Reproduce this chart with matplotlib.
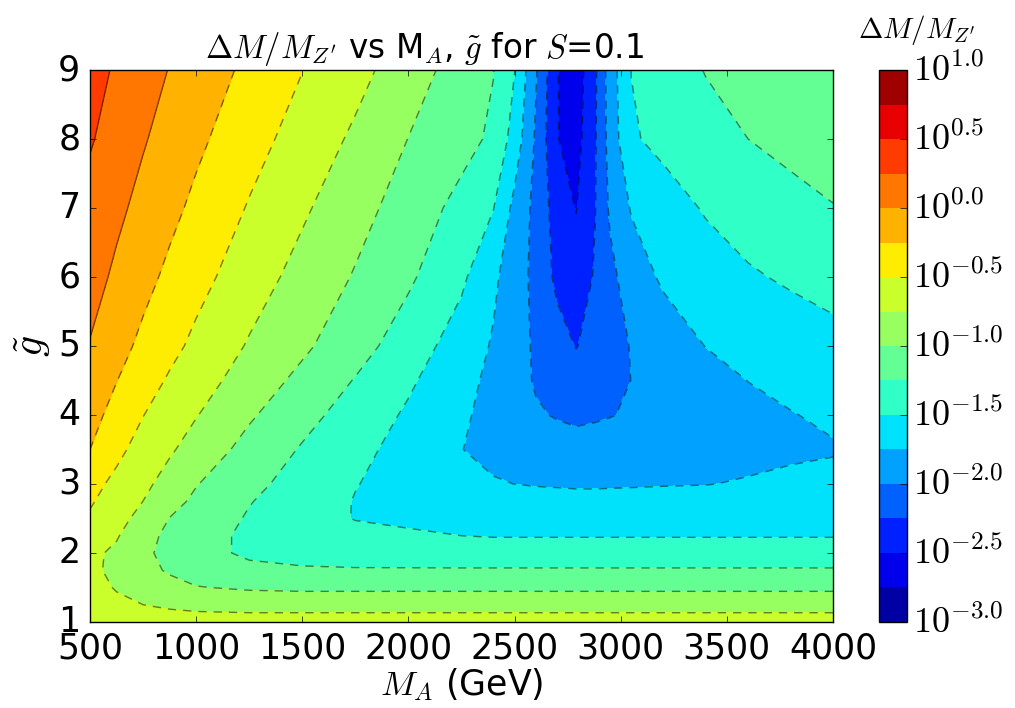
import numpy as np
import matplotlib
matplotlib.use('Agg')
import matplotlib.pyplot as plt

plt.style.use('classic')
plt.rcParams['mathtext.fontset'] = 'cm'

# grid of the scan: M_A in GeV (columns) and g-tilde (rows)
m_a = [500, 625, 750, 875, 1000, 1250, 1500, 1750, 2000, 2250, 2400, 2500, 2600,
       2700, 2790, 2880, 2950, 3050, 3200, 3400, 3600, 3800, 4000]
g_tilde = [1.0, 1.25, 1.5, 1.75, 2.0, 2.25, 2.5, 2.75, 3.0, 3.5, 4.0, 4.5, 5.0,
           6.0, 7.0, 8.0, 9.0]

# log10(Delta M / M_Z') on the grid, one list per g-tilde row
dm_g100 = [-0.62, -0.625, -0.63, -0.635, -0.64, -0.64, -0.64, -0.64, -0.64, -0.64, -0.64, -0.64, -0.64,
           -0.64, -0.64, -0.64, -0.64, -0.64, -0.64, -0.64, -0.64, -0.64, -0.64]
dm_g125 = [-0.68, -0.72, -0.75, -0.79, -0.82, -0.845, -0.845, -0.845, -0.845, -0.845, -0.845, -0.845, -0.845,
           -0.845, -0.845, -0.845, -0.845, -0.845, -0.845, -0.845, -0.845, -0.845, -0.845]
dm_g150 = [-0.70, -0.76, -0.84, -0.918, -0.99, -1.03, -1.045, -1.045, -1.045, -1.045, -1.045, -1.045, -1.045,
           -1.045, -1.045, -1.045, -1.045, -1.045, -1.045, -1.045, -1.045, -1.045, -1.045]
dm_g175 = [-0.71, -0.795, -0.921, -1.03, -1.10, -1.18, -1.22, -1.23, -1.23, -1.23, -1.23, -1.23, -1.23,
           -1.23, -1.23, -1.23, -1.23, -1.23, -1.23, -1.23, -1.23, -1.23, -1.23]
dm_g200 = [-0.70, -0.793, -0.957, -1.063, -1.149, -1.30, -1.34, -1.36, -1.37, -1.38, -1.38, -1.38, -1.38,
           -1.38, -1.38, -1.38, -1.38, -1.38, -1.38, -1.38, -1.38, -1.38, -1.38]
dm_g225 = [-0.63, -0.73, -0.917, -1.055, -1.15, -1.30, -1.38, -1.424, -1.462, -1.50, -1.512, -1.512, -1.512,
           -1.512, -1.512, -1.512, -1.512, -1.512, -1.512, -1.512, -1.512, -1.512, -1.512]
dm_g250 = [-0.53, -0.67, -0.826, -1.005, -1.098, -1.274, -1.393, -1.51, -1.55, -1.58, -1.595, -1.60, -1.605,
           -1.61, -1.61, -1.61, -1.608, -1.605, -1.60, -1.59, -1.58, -1.57, -1.564]
dm_g275 = [-0.475, -0.612, -0.751, -0.918, -1.046, -1.238, -1.38, -1.51, -1.565, -1.63, -1.668, -1.68, -1.689,
           -1.694, -1.70, -1.70, -1.697, -1.694, -1.685, -1.672, -1.66, -1.64, -1.622]
dm_g300 = [-0.425, -0.557, -0.695, -0.841, -0.989, -1.186, -1.347, -1.492, -1.585, -1.677, -1.735, -1.751, -1.76,
           -1.765, -1.77, -1.77, -1.768, -1.765, -1.76, -1.755, -1.736, -1.707, -1.678]
dm_g350 = [-0.25, -0.443, -0.59, -0.72, -0.848, -1.081, -1.271, -1.431, -1.589, -1.747, -1.80, -1.84, -1.88,
           -1.91, -1.92, -1.91, -1.90, -1.88, -1.86, -1.83, -1.80, -1.785, -1.77]
dm_g400 = [-0.167, -0.333, -0.495, -0.616, -0.739, -0.969, -1.171, -1.357, -1.534, -1.715, -1.825, -1.90, -1.977,
           -2.015, -2.04, -2.025, -2.008, -1.98, -1.936, -1.877, -1.819, -1.76, -1.71]
dm_g450 = [-0.10, -0.245, -0.389, -0.529, -0.643, -0.86, -1.063, -1.263, -1.464, -1.672, -1.809, -1.92, -2.02,
           -2.08, -2.145, -2.105, -2.063, -1.998, -1.932, -1.839, -1.747, -1.69, -1.632]
dm_g500 = [-0.012, -0.164, -0.306, -0.432, -0.555, -0.772, -0.956, -1.155, -1.372, -1.617, -1.773, -1.905, -2.034,
           -2.154, -2.26, -2.158, -2.086, -1.989, -1.883, -1.746, -1.684, -1.621, -1.56]
dm_g600 = [0.091, -0.043, -0.176, -0.302, -0.418, -0.635, -0.832, -1.019, -1.212, -1.455, -1.707, -1.876, -2.073,
           -2.305, -2.38, -2.228, -2.065, -1.875, -1.714, -1.619, -1.526, -1.47, -1.43]
dm_g700 = [0.17, 0.05, -0.069, -0.187, -0.303, -0.518, -0.714, -0.913, -1.107, -1.326, -1.493, -1.819, -2.07,
           -2.365, -2.51, -2.257, -1.961, -1.732, -1.614, -1.478, -1.40, -1.33, -1.26]
dm_g800 = [0.272, 0.147, 0.02, -0.09, -0.199, -0.406, -0.60, -0.791, -1.004, -1.166, -1.293, -1.605, -2.034,
           -2.49, -2.60, -2.27, -1.902, -1.528, -1.435, -1.341, -1.25, -1.18, -1.12]
dm_g900 = [0.34, 0.22, 0.105, -0.009, -0.108, -0.304, -0.496, -0.673, -0.88, -1.11, -1.243, -1.495, -1.975,
           -2.49, -2.64, -2.29, -1.875, -1.496, -1.385, -1.24, -1.18, -1.12, -1.07]

levels = np.arange(-3.0, 1.01, 0.25)
cbar_ticks = np.arange(-3.0, 1.01, 0.5)

Z = np.array([dm_g100, dm_g125, dm_g150, dm_g175, dm_g200, dm_g225, dm_g250, dm_g275,
              dm_g300, dm_g350, dm_g400, dm_g450, dm_g500, dm_g600, dm_g700, dm_g800, dm_g900])
X, Y = np.meshgrid(m_a, g_tilde)

fig = plt.figure(figsize=(10.15, 7.08), dpi=100, facecolor='white')
ax = fig.add_axes([0.0887, 0.1215, 0.732, 0.7796])
cax = fig.add_axes([0.866, 0.1215, 0.0276, 0.7796])

cf = ax.contourf(X, Y, Z, levels, cmap='jet')
styles = ['solid' if lv >= 0 else (0, (6, 5)) for lv in levels]
ax.contour(X, Y, Z, levels, colors='k', linewidths=1.0, alpha=0.5, linestyles=styles)

ax.set_xlim(500, 4000)
ax.set_ylim(1, 9)
ax.set_xticks(np.arange(500, 4001, 500))
ax.set_yticks(np.arange(1, 10, 1))
ax.tick_params(labelsize=25, pad=7)
ax.set_xlabel(r'$M_A$ (GeV)', fontsize=25, labelpad=0)
ax.set_ylabel(r'$\tilde{g}$', fontsize=30, labelpad=4)
ax.set_title(r'$\Delta M/M_{Z^\prime}$ vs M$_A$, $\tilde{g}$ for $S$=0.1',
             fontsize=23.5, x=0.45, y=1.01)

cbar = fig.colorbar(cf, cax=cax)
cbar.set_ticks(cbar_ticks)
cbar.set_ticklabels([r'$10^{%.1f}$' % t for t in cbar_ticks])
cbar.ax.tick_params(labelsize=26, direction='in', length=5, pad=4)
cbar.ax.set_title(r'$\Delta M/M_{Z^\prime}$', fontsize=21, x=1.36, y=1.045)

fig.savefig('out.png', dpi=100, facecolor='white')
